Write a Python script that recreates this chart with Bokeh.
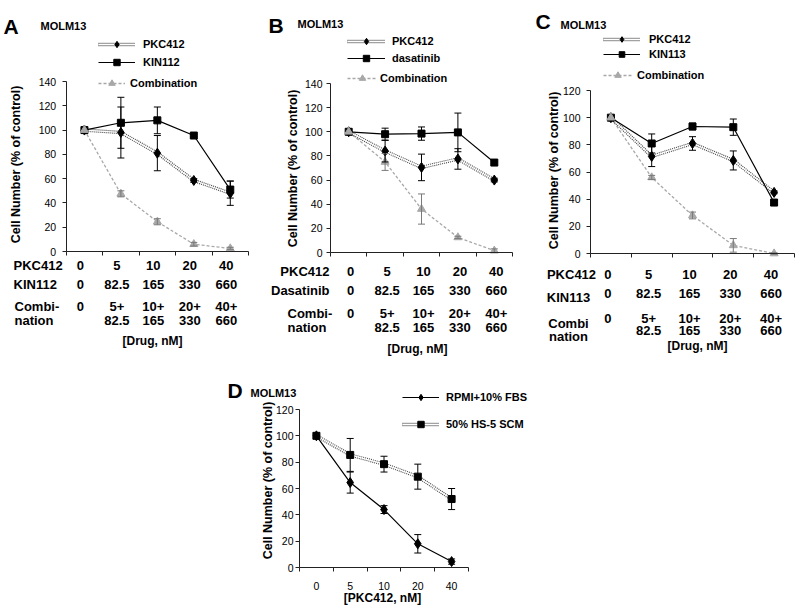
import math
from bokeh.plotting import figure
from bokeh.models import (ColumnDataSource, Whisker, TeeHead, Label, LabelSet, Legend,
                          LegendItem, FixedTicker, Range1d, Spacer)
from bokeh.layouts import row, column
from bokeh.core.properties import value
from bokeh.embed import file_html
from bokeh.resources import INLINE

# ---------------- data ----------------
doses = ["0", "5", "10", "20", "40"]

# Panel A
a_pkc412 = [100, 98, 81, 58.5, 48]
a_pkc412_err = [0, 21, 14.5, 1.5, 10]
a_kin112 = [100, 106, 108, 95.5, 51]
a_kin112_err = [0, 21, 11, 1, 7]
a_comb = [100, 47.5, 24.5, 6, 2.5]
a_comb_err = [0, 2.5, 2.5, 1.5, 1]
a_row_pkc = ["0", "5", "10", "20", "40"]
a_row_kin = ["0", "82.5", "165", "330", "660"]
a_row_comb_top = ["0", "5+", "10+", "20+", "40+"]
a_row_comb_bot = ["", "82.5", "165", "330", "660"]

# Panel B
b_pkc412 = [100, 84, 70.5, 77.5, 60]
b_pkc412_err = [0, 9, 11, 8.5, 1.5]
b_dasatinib = [100, 98, 98.5, 99.5, 74.5]
b_dasatinib_err = [0, 5, 5.5, 16, 1]
b_comb = [100, 75, 36, 12.5, 1.5]
b_comb_err = [0, 7, 12.5, 1, 1.5]
b_row_pkc = ["0", "5", "10", "20", "40"]
b_row_das = ["0", "82.5", "165", "330", "660"]
b_row_comb_top = ["0", "5+", "10+", "20+", "40+"]
b_row_comb_bot = ["", "82.5", "165", "330", "660"]

# Panel C
c_pkc412 = [100, 71.5, 81, 68.5, 45]
c_pkc412_err = [0, 7.5, 5, 7, 1]
c_kin113 = [100, 81, 93.5, 93, 37.5]
c_kin113_err = [0, 7, 2.5, 6, 2]
c_comb = [100, 56, 28, 6, 0]
c_comb_err = [0, 1.5, 2.5, 5, 0.5]
c_row_pkc = ["0", "5", "10", "20", "40"]
c_row_kin = ["0", "82.5", "165", "330", "660"]
c_row_comb_top = ["0", "5+", "10+", "20+", "40+"]
c_row_comb_bot = ["", "82.5", "165", "330", "660"]

# Panel D
d_rpmi = [100, 64.5, 44, 18, 4.5]
d_rpmi_err = [0, 8, 3, 7, 2]
d_hs5 = [100, 85.5, 78.5, 69, 52]
d_hs5_err = [0, 12.5, 6, 9.5, 8]

FONT = "Liberation Sans"
GRAY = "#a8a8a8"
AXIS = "#222222"
N = len(doses)
XS = [i + 0.5 for i in range(N)]
YLABEL = "Cell Number (% of control)"
TABLE_SIZE = "13px"


def make_fig(W, H, x0, x5, y0, ytop, ymax, tick_standoff):
    """Whole canvas is the frame; axes drawn at fixed data locations."""
    kx = (x5 - x0) / N
    ky = (y0 - ytop) / ymax
    p = figure(width=W, height=H, title=None, output_backend="svg", toolbar_location=None,
               x_range=Range1d(-x0 / kx, (W - x0) / kx),
               y_range=Range1d((y0 - H) / ky, y0 / ky),
               min_border_left=0, min_border_right=0, min_border_top=0, min_border_bottom=0)
    p.outline_line_color = None
    p.grid.visible = False
    p.background_fill_color = "white"
    p.border_fill_color = "white"
    ya = p.yaxis[0]
    ya.fixed_location = 0
    ya.bounds = (0, ymax)
    ya.ticker = FixedTicker(ticks=list(range(0, ymax + 1, 20)))
    ya.minor_tick_line_color = None
    ya.major_tick_in = 0
    ya.major_tick_out = 4
    ya.major_label_standoff = tick_standoff
    ya.major_label_text_font = FONT
    ya.major_label_text_font_size = "10.5px"
    ya.major_label_text_color = "black"
    ya.axis_line_color = AXIS
    ya.major_tick_line_color = AXIS
    xa = p.xaxis[0]
    xa.fixed_location = 0
    xa.bounds = (0, N)
    xa.axis_line_color = AXIS
    xa.major_tick_line_color = AXIS
    xa.minor_tick_line_color = AXIS
    xa.major_tick_in = 0
    xa.minor_tick_in = 0
    xa.minor_tick_out = 4
    fx = lambda px: (px - x0) / kx
    fy = lambda py: (y0 - py) / ky
    return p, fx, fy


def double_dotted(p, ys):
    r1 = p.line(XS, ys, line_color="#444444", line_width=3.4, line_dash="1 1")
    r2 = p.line(XS, ys, line_color="white", line_width=1.2)
    return [r1, r2]


def errbars(p, ys, errs, color):
    xs = [x for x, e in zip(XS, errs) if e > 0]
    lo = [y - e for y, e in zip(ys, errs) if e > 0]
    hi = [y + e for y, e in zip(ys, errs) if e > 0]
    src = ColumnDataSource(dict(x=xs, lower=lo, upper=hi))
    w = Whisker(source=src, base="x", lower="lower", upper="upper", dimension="height",
                line_color=color, line_width=1, level="glyph",
                upper_head=TeeHead(size=7, line_color=color, line_width=1),
                lower_head=TeeHead(size=7, line_color=color, line_width=1))
    p.add_layout(w)


def text(p, txt, x, y, size=TABLE_SIZE, align="left", baseline="middle", style="bold", angle=0):
    p.add_layout(Label(x=x, y=y, text=txt, text_font=FONT, angle=angle,
                       text_font_size=size, text_font_style=style, text_align=align,
                       text_baseline=baseline, text_color="black"))


def table_row(p, texts, dx, y):
    src = ColumnDataSource(dict(x=XS, y=[y] * N, text=texts))
    p.add_layout(LabelSet(x="x", y="y", text="text", source=src, x_offset=dx,
                          text_font=value(FONT), text_font_size=TABLE_SIZE,
                          text_font_style="bold", text_align="center",
                          text_baseline="middle", text_color="black"))


def legend(p, items, loc, standoff, spacing, gw=37, gh=16):
    leg = Legend(items=[LegendItem(label=l, renderers=r) for l, r in items], location=loc,
                 orientation="vertical", glyph_width=gw, glyph_height=gh, label_height=gh,
                 spacing=spacing, padding=0, margin=0, label_standoff=standoff,
                 border_line_color=None, background_fill_alpha=0,
                 label_text_font=FONT, label_text_font_size="11px",
                 label_text_font_style="bold", label_text_color="black")
    p.add_layout(leg)


def combo_panel(W, x0, x5, y0, ytop, ymax, tick_so,
                pkc, pkc_err, drug, drug_err, comb, comb_err, drug_name):
    p, fx, fy = make_fig(W, 360, x0, x5, y0, ytop, ymax, tick_so)
    xa = p.xaxis[0]
    xa.ticker = FixedTicker(ticks=[], minor_ticks=list(range(N + 1)))
    r_comb = p.line(XS, comb, line_color=GRAY, line_width=1.3, line_dash="3 2")
    r_pkc = double_dotted(p, pkc)
    r_drug = p.line(XS, drug, line_color="black", line_width=1.2)
    errbars(p, comb, comb_err, "#7a7a7a")
    errbars(p, pkc, pkc_err, "black")
    errbars(p, drug, drug_err, "black")
    s_pkc = p.scatter(XS, pkc, marker="diamond", size=10, color="black")
    s_drug = p.scatter(XS, drug, marker="square", size=7, color="black")
    s_comb = p.scatter(XS, comb, marker="triangle", size=8, color=GRAY)
    items = [("PKC412", r_pkc + [s_pkc]), (drug_name, [r_drug, s_drug])]
    comb_item = [("Combination", [r_comb, s_comb])]
    return p, fx, fy, items, comb_item


# ---------------- Panel A ----------------
pa, fx, fy, items_a, comb_a = combo_panel(265, 65.7, 248, 251, 81, 140, 6,
                                          a_pkc412, a_pkc412_err, a_kin112, a_kin112_err,
                                          a_comb, a_comb_err, "KIN112")
legend(pa, items_a, (98, 290), 8, 2)
legend(pa, comb_a, (98, 269), 5, 0, gw=27)
text(pa, "A", fx(3), fy(26), size="21px", baseline="alphabetic")
text(pa, "MOLM13", fx(40), fy(25), size="11px", baseline="alphabetic")
text(pa, YLABEL, fx(15), fy(164), size="12.5px", align="center", angle=math.pi / 2)
text(pa, "PKC412", fx(13), fy(265))
text(pa, "KIN112", fx(13), fy(284))
text(pa, "Combi-", fx(14), fy(306))
text(pa, "nation", fx(14), fy(320))
table_row(pa, a_row_pkc, -4, fy(265))
table_row(pa, a_row_kin, -4, fy(284))
table_row(pa, a_row_comb_top, -4, fy(306))
table_row(pa, a_row_comb_bot, -4, fy(320))
text(pa, "[Drug, nM]", fx(152), fy(340), size="12px", align="center")

# ---------------- Panel B ----------------
pb, fx, fy, items_b, comb_b = combo_panel(255, 65, 247, 252, 83, 140, 4,
                                          b_pkc412, b_pkc412_err, b_dasatinib, b_dasatinib_err,
                                          b_comb, b_comb_err, "dasatinib")
legend(pb, items_b, (82, 294), 7, 1, gw=38)
legend(pb, comb_b, (82, 274), 3, 0, gw=30)
text(pb, "B", fx(3), fy(25), size="21px", baseline="alphabetic")
text(pb, "MOLM13", fx(32), fy(23), size="11px", baseline="alphabetic")
text(pb, YLABEL, fx(27), fy(168), size="12.5px", align="center", angle=math.pi / 2)
text(pb, "PKC412", fx(64), fy(271), align="right")
text(pb, "Dasatinib", fx(64), fy(290), align="right")
text(pb, "Combi-", fx(22), fy(313))
text(pb, "nation", fx(22), fy(327))
table_row(pb, b_row_pkc, 2, fy(271))
table_row(pb, b_row_das, 2, fy(290))
table_row(pb, b_row_comb_top, 2, fy(313))
table_row(pb, b_row_comb_bot, 2, fy(327))
text(pb, "[Drug, nM]", fx(152), fy(348), size="12px", align="center")

# ---------------- Panel C ----------------
pc, fx, fy, items_c, comb_c = combo_panel(280, 70, 274, 253, 90, 120, 6,
                                          c_pkc412, c_pkc412_err, c_kin113, c_kin113_err,
                                          c_comb, c_comb_err, "KIN113")
legend(pc, items_c, (83, 299), 9, 1, gh=14)
legend(pc, comb_c, (83, 277), 5, 0, gw=29)
text(pc, "C", fx(15), fy(21), size="21px", baseline="alphabetic")
text(pc, "MOLM13", fx(40), fy(24), size="11px", baseline="alphabetic")
text(pc, YLABEL, fx(33), fy(170), size="12.5px", align="center", angle=math.pi / 2)
text(pc, "PKC412", fx(51), fy(274), align="center")
text(pc, "KIN113", fx(48), fy(297), align="center")
text(pc, "Combi", fx(48), fy(323), align="center")
text(pc, "nation", fx(48), fy(336), align="center")
table_row(pc, c_row_pkc, -3, fy(274))
table_row(pc, c_row_kin, -3, fy(293))
table_row(pc, c_row_comb_top, -3, fy(318))
table_row(pc, c_row_comb_bot, -3, fy(330))
text(pc, "[Drug, nM]", fx(177), fy(345), size="12px", align="center")

# ---------------- Panel D ----------------
pd_, fx, fy = make_fig(360, 248, 99, 268, 207, 49, 120, 2)
xd = pd_.xaxis[0]
xd.ticker = FixedTicker(ticks=XS, minor_ticks=list(range(N + 1)))
xd.major_tick_out = 0
xd.major_label_overrides = {x: d for x, d in zip(XS, doses)}
xd.major_label_standoff = 10
xd.major_label_text_font = FONT
xd.major_label_text_font_size = "10.5px"
xd.major_label_text_color = "black"
r_hs5 = double_dotted(pd_, d_hs5)
r_rpmi = pd_.line(XS, d_rpmi, line_color="black", line_width=1.2)
errbars(pd_, d_hs5, d_hs5_err, "black")
errbars(pd_, d_rpmi, d_rpmi_err, "black")
s_hs5 = pd_.scatter(XS, d_hs5, marker="square", size=7, color="black")
s_rpmi = pd_.scatter(XS, d_rpmi, marker="diamond", size=10, color="black")
legend(pd_, [("RPMI+10% FBS", [r_rpmi, s_rpmi]), ("50% HS-5 SCM", r_hs5 + [s_hs5])],
       (202, 176), 7, 11)
text(pd_, "D", fx(27), fy(30), size="21px", baseline="alphabetic")
text(pd_, "MOLM13", fx(50), fy(32), size="11px", baseline="alphabetic")
text(pd_, YLABEL, fx(67), fy(120), size="12.5px", align="center", angle=math.pi / 2)
text(pd_, "[PKC412, nM]", fx(182), fy(237), size="12px", align="center")

layout = column(row(pa, pb, pc), row(Spacer(width=200, height=248), pd_))

open("out.html", "w").write(file_html(layout, INLINE))
